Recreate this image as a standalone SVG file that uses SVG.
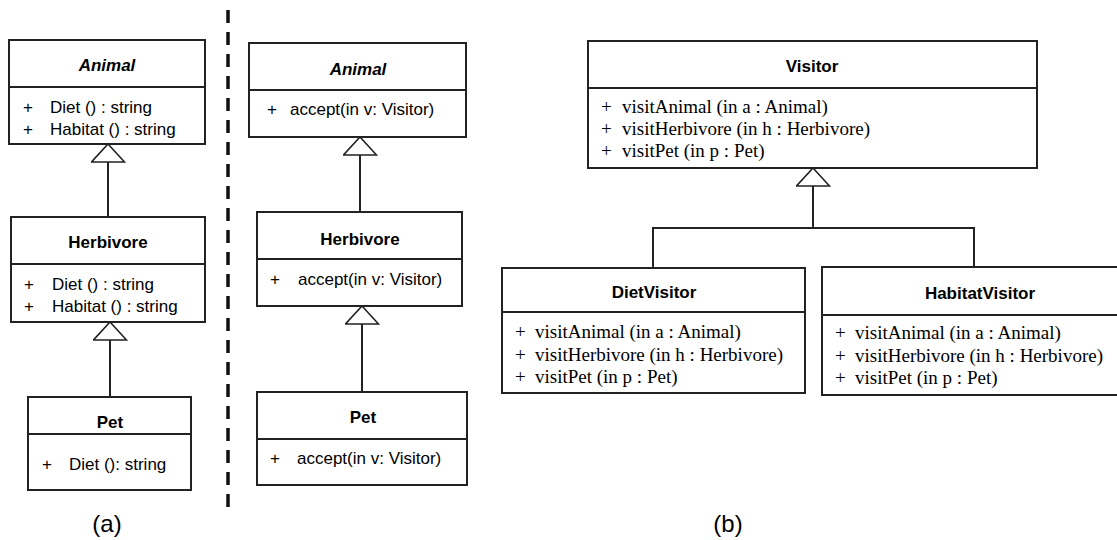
<svg xmlns="http://www.w3.org/2000/svg" width="1117" height="540" viewBox="0 0 1117 540">
  <style>
    .box { fill: #fff; stroke: #222; stroke-width: 2; }
    .sep { stroke: #222; stroke-width: 2; }
    .link { fill: none; stroke: #222; stroke-width: 2; }
    .title { font-family: "Liberation Sans", Arial, sans-serif; font-size: 17px; font-weight: bold; text-anchor: middle; fill: #000; }
    .abstract { font-style: italic; }
    .op { font-family: "Liberation Sans", Arial, sans-serif; font-size: 17px; fill: #000; }
    .sop { font-family: "Liberation Serif", "Times New Roman", serif; font-size: 19px; fill: #000; }
    .cap { font-family: "Liberation Sans", Arial, sans-serif; font-size: 24px; text-anchor: middle; fill: #000; }
    .divider { stroke: #111; stroke-width: 3.5; stroke-dasharray: 13 9; }
  </style>
  <defs>
    <!-- hollow generalization triangle, tip on the parent's edge -->
    <marker id="gen" viewBox="0 0 20 35" refX="19" refY="17.5" markerWidth="20" markerHeight="35" markerUnits="userSpaceOnUse" orient="auto">
      <path d="M1,1 L19,17.5 L1,34 Z" fill="#fff" stroke="#222" stroke-width="1.6"/>
    </marker>
  </defs>

  <!-- vertical separator between the two parts -->
  <line class="divider" x1="228" y1="10" x2="228" y2="516"/>

  <!-- part (a): plain class hierarchy -->
  <g id="a-animal">
    <rect class="box" x="9" y="40" width="196" height="104"/>
    <line class="sep" x1="9" y1="87" x2="205" y2="87"/>
    <text class="title abstract" x="107" y="71">Animal</text>
    <text class="op" x="23" y="113">+</text>
    <text class="op" x="50" y="113">Diet () : string</text>
    <text class="op" x="23" y="135">+</text>
    <text class="op" x="50" y="135">Habitat () : string</text>
  </g>
  <g id="a-herbivore">
    <rect class="box" x="11" y="217" width="194" height="105"/>
    <line class="sep" x1="11" y1="264" x2="205" y2="264"/>
    <text class="title" x="108" y="248">Herbivore</text>
    <text class="op" x="24" y="290">+</text>
    <text class="op" x="52" y="290">Diet () : string</text>
    <text class="op" x="24" y="312">+</text>
    <text class="op" x="52" y="312">Habitat () : string</text>
  </g>
  <g id="a-pet">
    <rect class="box" x="28" y="397" width="163" height="93"/>
    <line class="sep" x1="28" y1="434" x2="191" y2="434"/>
    <text class="title" x="110" y="428">Pet</text>
    <text class="op" x="42" y="470">+</text>
    <text class="op" x="69" y="470">Diet (): string</text>
  </g>

  <!-- part (b): visitor pattern -->
  <g id="b-animal">
    <rect class="box" x="249" y="43" width="217" height="94"/>
    <line class="sep" x1="249" y1="90" x2="466" y2="90"/>
    <text class="title abstract" x="358" y="75">Animal</text>
    <text class="op" x="267" y="115">+</text>
    <text class="op" x="290" y="115">accept(in v: Visitor)</text>
  </g>
  <g id="b-herbivore">
    <rect class="box" x="257" y="212" width="205" height="94"/>
    <line class="sep" x1="257" y1="259" x2="462" y2="259"/>
    <text class="title" x="360" y="245">Herbivore</text>
    <text class="op" x="270" y="285">+</text>
    <text class="op" x="298" y="285">accept(in v: Visitor)</text>
  </g>
  <g id="b-pet">
    <rect class="box" x="257" y="392" width="210" height="93"/>
    <line class="sep" x1="257" y1="439" x2="467" y2="439"/>
    <text class="title" x="363" y="423">Pet</text>
    <text class="op" x="270" y="464">+</text>
    <text class="op" x="297" y="464">accept(in v: Visitor)</text>
  </g>

  <g id="visitor">
    <rect class="box" x="588" y="41" width="449" height="127"/>
    <line class="sep" x1="588" y1="88" x2="1037" y2="88"/>
    <text class="title" x="812" y="72">Visitor</text>
    <text class="sop" x="601" y="113">+</text>
    <text class="sop" x="622" y="113">visitAnimal (in a : Animal)</text>
    <text class="sop" x="601" y="135">+</text>
    <text class="sop" x="622" y="135">visitHerbivore (in h : Herbivore)</text>
    <text class="sop" x="601" y="157">+</text>
    <text class="sop" x="622" y="157">visitPet (in p : Pet)</text>
  </g>
  <g id="diet-visitor">
    <rect class="box" x="502" y="268" width="303" height="125"/>
    <line class="sep" x1="502" y1="312" x2="805" y2="312"/>
    <text class="title" x="654" y="298">DietVisitor</text>
    <text class="sop" x="515" y="338">+</text>
    <text class="sop" x="535" y="338">visitAnimal (in a : Animal)</text>
    <text class="sop" x="515" y="361">+</text>
    <text class="sop" x="535" y="361">visitHerbivore (in h : Herbivore)</text>
    <text class="sop" x="515" y="383">+</text>
    <text class="sop" x="535" y="383">visitPet (in p : Pet)</text>
  </g>
  <g id="habitat-visitor">
    <rect class="box" x="822" y="267" width="320" height="128"/>
    <line class="sep" x1="822" y1="315" x2="1142" y2="315"/>
    <text class="title" x="980" y="299">HabitatVisitor</text>
    <text class="sop" x="835" y="339">+</text>
    <text class="sop" x="855" y="339">visitAnimal (in a : Animal)</text>
    <text class="sop" x="835" y="362">+</text>
    <text class="sop" x="855" y="362">visitHerbivore (in h : Herbivore)</text>
    <text class="sop" x="835" y="384">+</text>
    <text class="sop" x="855" y="384">visitPet (in p : Pet)</text>
  </g>

  <!-- generalization connectors -->
  <g id="connectors">
    <path class="link" d="M108,217 V144" marker-end="url(#gen)"/>
    <path class="link" d="M110,397 V322" marker-end="url(#gen)"/>
    <path class="link" d="M360,212 V137" marker-end="url(#gen)"/>
    <path class="link" d="M362,392 V306" marker-end="url(#gen)"/>
    <path class="link" d="M653,268 V228 H974 V267"/>
    <path class="link" d="M813,228 V168" marker-end="url(#gen)"/>
  </g>

  <!-- part captions -->
  <text class="cap" x="107" y="532">(a)</text>
  <text class="cap" x="728" y="532">(b)</text>
</svg>
